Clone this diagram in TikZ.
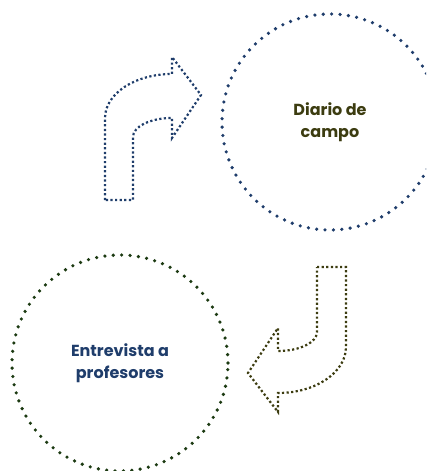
\documentclass[tikz,border=0pt]{standalone}
\usepackage{fontspec}
\setmainfont{Poppins}

\definecolor{azul}{HTML}{1F3D6B}
\definecolor{verde}{HTML}{1C3A12}
\definecolor{oliva}{HTML}{3C3C10}

\tikzset{
  circulo/.style={circle, minimum size=216pt, line width=3.6pt, line cap=round,
    dash pattern=on 0pt off 8.4pt, align=center, font=\bfseries\fontsize{16}{22}\selectfont},
  flecha/.style={line width=2.2pt, dash pattern=on 2.2pt off 2.4pt}
}

\begin{document}
\begin{tikzpicture}[x=1pt,y=1pt]
\useasboundingbox (0,0) rectangle (426,-471);
\clip (0,0) rectangle (426,-471);
\node[circulo, draw=azul, text=oliva] (diario) at (330,-122) {Diario de\\campo};
\node[circulo, draw=verde, text=azul] (entrevista) at (120,-363) {Entrevista a\\profesores};
% flecha hacia el diario
\draw[flecha, azul] (105,-200) -- (105,-118)
  arc[start angle=180, end angle=90, x radius=67, y radius=44]
  -- (172,-57) -- (201,-95) -- (172,-138) -- (172,-118)
  arc[start angle=90, end angle=180, x radius=39, y radius=19]
  -- (133,-200) -- cycle;
% flecha hacia la entrevista
\draw[flecha, oliva] (317,-267) -- (346,-267) -- (346,-347)
  arc[start angle=0, end angle=-90, x radius=68, y radius=46]
  -- (278,-412) -- (248,-373) -- (278,-328) -- (278,-351)
  arc[start angle=-90, end angle=0, x radius=39, y radius=19]
  -- cycle;
\end{tikzpicture}
\end{document}
